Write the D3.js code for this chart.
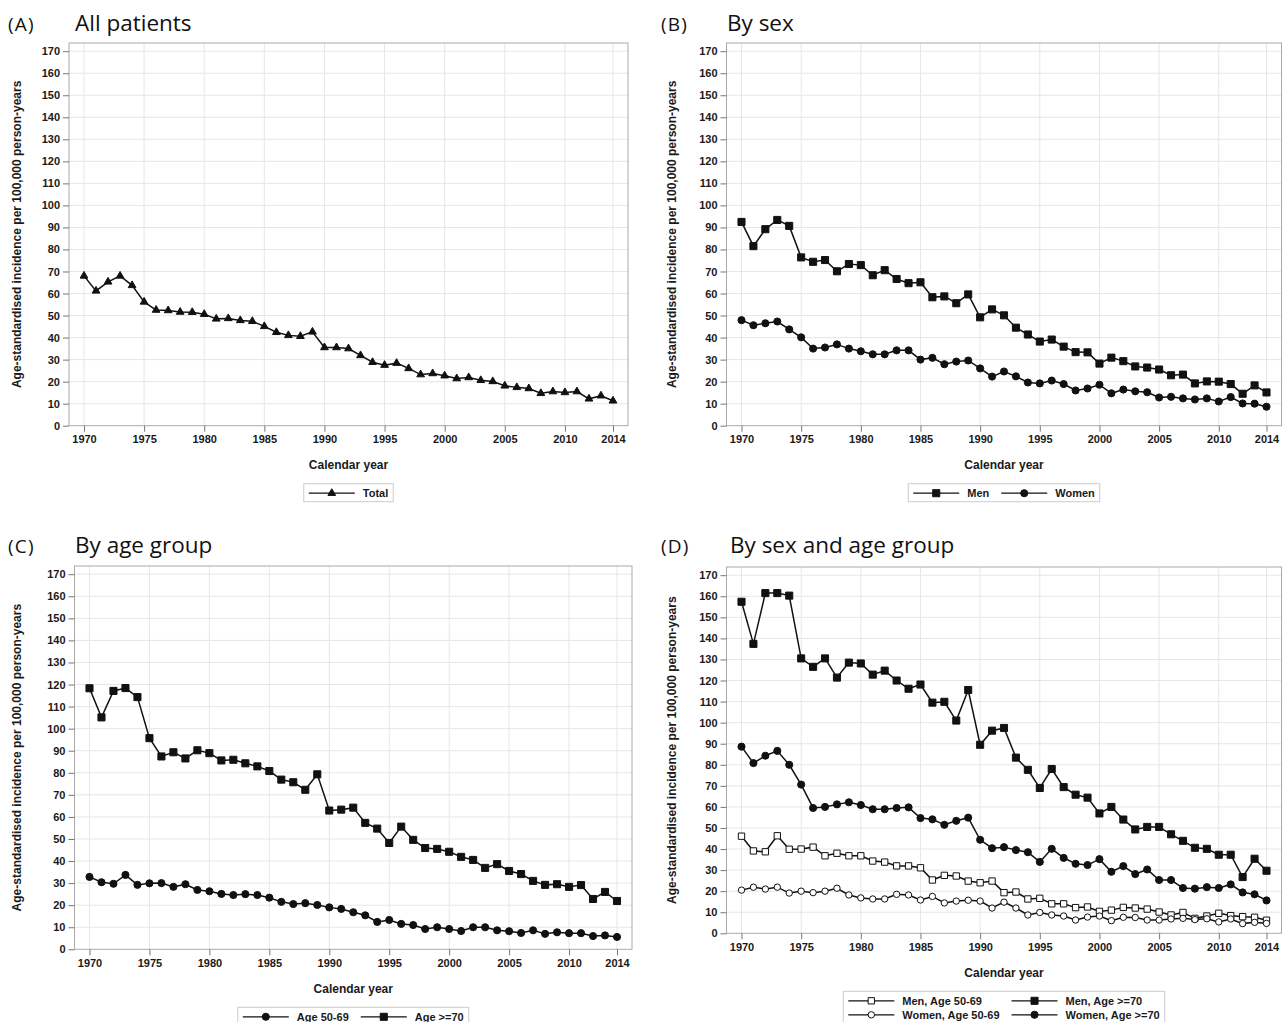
<!DOCTYPE html>
<html>
<head>
<meta charset="utf-8">
<script src="https://cdn.jsdelivr.net/npm/d3@7"></script>
<style>
  body { margin: 0; background: #fff; }
  text { font-family: "Liberation Sans", Arial, sans-serif; }
  .tick text { font-size: 11px; font-weight: bold; fill: #1a1a1a; }
  .tick line { stroke: #777; }
  .axis-label { font-size: 12px; font-weight: bold; fill: #1a1a1a; }
  .legend-text { font-size: 11px; font-weight: bold; fill: #1a1a1a; }
  .title { font-family: "Open Sans", sans-serif; font-size: 22.5px; fill: #111; }
  .tag { font-family: "Open Sans", sans-serif; font-size: 19px; letter-spacing: 1.2px; fill: #111; }
</style>
</head>
<body>
<div id="chart"></div>
<script>
const years = [1970, 1971, 1972, 1973, 1974, 1975, 1976, 1977, 1978, 1979,
  1980, 1981, 1982, 1983, 1984, 1985, 1986, 1987, 1988, 1989,
  1990, 1991, 1992, 1993, 1994, 1995, 1996, 1997, 1998, 1999,
  2000, 2001, 2002, 2003, 2004, 2005, 2006, 2007, 2008, 2009,
  2010, 2011, 2012, 2013, 2014];

const xTicks = [1970, 1975, 1980, 1985, 1990, 1995, 2000, 2005, 2010, 2014];
const yTicks = [0, 10, 20, 30, 40, 50, 60, 70, 80, 90, 100, 110, 120, 130, 140, 150, 160, 170];

// (A) all patients
const total = [68, 61.2, 65.3, 68, 63.7, 56.2, 52.5, 52.3, 51.6, 51.5,
  50.6, 48.5, 48.7, 47.8, 47.4, 45.1, 42.4, 41, 40.6, 42.6,
  35.5, 35.5, 35, 31.9, 28.8, 27.5, 28.4, 26, 23.2, 23.7,
  22.7, 21.4, 21.9, 20.6, 20.1, 18.1, 17.4, 16.9, 14.7, 15.5,
  15.1, 15.5, 12.2, 13.6, 11.3];

// (B) by sex
const men = [92.5, 81.5, 89.2, 93.4, 90.7, 76.4, 74.4, 75.2, 70.1, 73.4,
  72.9, 68.3, 70.6, 66.6, 64.7, 65.1, 58.3, 58.7, 55.6, 59.6,
  49.2, 52.8, 50.1, 44.5, 41.4, 38.2, 39.1, 35.9, 33.4, 33.3,
  28.2, 30.9, 29.3, 26.9, 26.4, 25.5, 22.9, 23.2, 19.2, 20.1,
  20, 18.9, 14.5, 18.3, 15.1];
const women = [47.9, 45.6, 46.5, 47.3, 43.7, 40.1, 35, 35.5, 36.9, 35,
  33.8, 32.4, 32.4, 34.2, 34.2, 30, 30.8, 27.9, 29.1, 29.6,
  26, 22.3, 24.6, 22.4, 19.6, 19.2, 20.5, 18.9, 16, 16.9,
  18.6, 14.7, 16.4, 15.6, 15.2, 12.8, 13.1, 12.4, 11.9, 12.4,
  11, 13, 10.1, 10, 8.6];

// (C) by age group
const age5069 = [32.8, 30.4, 29.7, 33.7, 29.2, 29.9, 30, 28.3, 29.5, 26.9,
  26.3, 25.1, 24.6, 25, 24.6, 23.4, 21.5, 20.5, 20.9, 20.1,
  19, 18.3, 16.8, 15.4, 12.4, 13.3, 11.5, 11, 9.2, 10,
  9.2, 8.3, 10, 10, 8.6, 8.2, 7.4, 8.6, 7, 7.7,
  7.3, 7.3, 6, 6.3, 5.6];
const age70 = [118.3, 105.1, 117.1, 118.4, 114.3, 95.7, 87.4, 89.3, 86.5, 90.2,
  88.9, 85.6, 85.9, 84.3, 82.9, 80.8, 76.9, 75.7, 72.3, 79.3,
  62.9, 63.3, 64.2, 57.3, 54.7, 48.2, 55.6, 49.6, 45.9, 45.5,
  44.2, 41.9, 40.5, 36.9, 38.6, 35.5, 34.1, 31, 29.2, 29.5,
  28.3, 29.1, 22.8, 26, 21.9];

// (D) by sex and age group
const men5069 = [46.1, 39.1, 38.7, 46.3, 39.9, 40, 40.9, 36.8, 38, 36.8,
  36.8, 34.3, 33.8, 32, 32, 31.1, 25.3, 27.5, 27.2, 24.8,
  24, 24.8, 19.3, 19.6, 16.3, 16.6, 14, 14, 12.2, 12.5,
  10.4, 11, 12.3, 12, 11.5, 10.1, 8.7, 9.9, 7.1, 8.2,
  9.5, 8.4, 7.9, 7.6, 6.2];
const men70 = [157.4, 137.4, 161.5, 161.5, 160.3, 130.5, 126.5, 130.5, 121.4, 128.5,
  128.1, 122.8, 124.7, 120, 116.1, 118.1, 109.5, 109.9, 101, 115.5,
  89.5, 96.2, 97.5, 83.4, 77.6, 69, 78, 69.4, 65.8, 64.4,
  56.9, 60, 54, 49.3, 50.5, 50.5, 47, 43.9, 40.6, 40.1,
  37.3, 37.3, 26.7, 35.4, 29.7];
const women5069 = [20.5, 21.9, 21, 21.9, 19.1, 20, 19.3, 20, 21.4, 18.2,
  16.8, 16.3, 16.3, 18.5, 18.2, 15.8, 17.5, 14.4, 15.3, 15.7,
  15.3, 12, 14.8, 12, 8.7, 9.9, 8.7, 8.2, 6.3, 7.7,
  8.2, 6, 7.6, 7.5, 6.3, 6.3, 6.8, 7.1, 6.5, 6.9,
  5.4, 6.8, 4.6, 5.2, 4.7];
const women70 = [88.6, 80.8, 84.3, 86.6, 80, 70.6, 59.5, 60, 61.2, 62.2,
  60.9, 58.9, 58.9, 59.5, 59.8, 54.7, 54.1, 51.5, 53.4, 54.9,
  44.4, 40.4, 40.9, 39.5, 38.5, 33.9, 40.1, 35.8, 33, 32.4,
  35.2, 29.2, 31.9, 28.1, 30.3, 25.3, 25.3, 21.5, 21.2, 21.9,
  21.5, 23.2, 19.4, 18.5, 15.6];

const yLabel = "Age-standardised incidence per 100,000 person-years";

const panels = [
  { tag: "(A)", title: "All patients", left: 69, right: 628, top: 43, bottom: 425.7,
    tagX: 8, titleX: 75, titleY: 31, labelX: 17, rows: 1,
    series: [{ name: "Total", values: total, symbol: "triangle", filled: true }] },
  { tag: "(B)", title: "By sex", left: 726.5, right: 1281.5, top: 43, bottom: 425.7,
    tagX: 661, titleX: 727, titleY: 31, labelX: 672, rows: 1,
    series: [{ name: "Men", values: men, symbol: "square", filled: true },
             { name: "Women", values: women, symbol: "circle", filled: true }] },
  { tag: "(C)", title: "By age group", left: 74.5, right: 632, top: 566, bottom: 949.3,
    tagX: 8, titleX: 75, titleY: 553, labelX: 17, rows: 1,
    series: [{ name: "Age 50-69", values: age5069, symbol: "circle", filled: true },
             { name: "Age >=70", values: age70, symbol: "square", filled: true }] },
  { tag: "(D)", title: "By sex and age group", left: 726.5, right: 1281.5, top: 567, bottom: 933.3,
    tagX: 661, titleX: 730, titleY: 553, labelX: 672, rows: 2,
    series: [{ name: "Men, Age 50-69", values: men5069, symbol: "square", filled: false },
             { name: "Men, Age >=70", values: men70, symbol: "square", filled: true },
             { name: "Women, Age 50-69", values: women5069, symbol: "circle", filled: false },
             { name: "Women, Age >=70", values: women70, symbol: "circle", filled: true }] }
];

const svg = d3.select("#chart")
  .append("svg")
  .attr("width", 1288)
  .attr("height", 1022);

function drawMarker(g, type, filled, cx, cy) {
  let size = 50;
  let sym = d3.symbolSquare;
  if (type === "circle") { sym = d3.symbolCircle; size = filled ? 40 : 32; }
  if (type === "triangle") { sym = d3.symbolTriangle; size = 26; }
  if (type === "square" && !filled) size = 40;
  g.append("path")
    .attr("d", d3.symbol().type(sym).size(size)())
    .attr("transform", `translate(${cx},${cy})`)
    .attr("fill", filled ? "#111" : "#fff")
    .attr("stroke", "#111")
    .attr("stroke-width", 1);
}

panels.forEach(p => {
  const g = svg.append("g");

  const x = d3.scaleLinear().domain([1970, 2014]).range([p.left + 15, p.right - 15]);
  const y = d3.scaleLinear().domain([0, 170]).range([p.bottom, p.top + 8.2]);

  // grid
  g.append("g").selectAll("line")
    .data(yTicks.filter(d => d > 0))
    .enter().append("line")
    .attr("x1", p.left).attr("x2", p.right)
    .attr("y1", d => y(d)).attr("y2", d => y(d))
    .attr("stroke", "#e6e6e6");
  g.append("g").selectAll("line")
    .data(xTicks)
    .enter().append("line")
    .attr("x1", d => x(d)).attr("x2", d => x(d))
    .attr("y1", p.top).attr("y2", p.bottom)
    .attr("stroke", "#e6e6e6");

  // frame
  g.append("rect")
    .attr("x", p.left).attr("y", p.top)
    .attr("width", p.right - p.left).attr("height", p.bottom - p.top)
    .attr("fill", "none").attr("stroke", "#aaa");

  // axes
  const yAxis = g.append("g")
    .attr("transform", `translate(${p.left},0)`)
    .call(d3.axisLeft(y).tickValues(yTicks).tickSize(6).tickPadding(3));
  yAxis.select(".domain").remove();

  const xAxis = g.append("g")
    .attr("transform", `translate(0,${p.bottom})`)
    .call(d3.axisBottom(x).tickValues(xTicks).tickFormat(d3.format("d")).tickSize(6).tickPadding(4));
  xAxis.select(".domain").remove();

  g.append("text")
    .attr("class", "axis-label")
    .attr("transform", "rotate(-90)")
    .attr("x", -(p.top + p.bottom) / 2)
    .attr("y", p.labelX)
    .attr("dy", "0.35em")
    .attr("text-anchor", "middle")
    .text(yLabel);

  g.append("text")
    .attr("class", "axis-label")
    .attr("x", (p.left + p.right) / 2)
    .attr("y", p.bottom + 39)
    .attr("dy", "0.35em")
    .attr("text-anchor", "middle")
    .text("Calendar year");

  // titles
  g.append("text").attr("class", "tag").attr("x", p.tagX).attr("y", p.titleY).text(p.tag);
  g.append("text").attr("class", "title").attr("x", p.titleX).attr("y", p.titleY).text(p.title);

  // series
  const line = d3.line().x((d, i) => x(years[i])).y(d => y(d));
  p.series.forEach(s => {
    g.append("path")
      .datum(s.values)
      .attr("d", line)
      .attr("fill", "none")
      .attr("stroke", "#111")
      .attr("stroke-width", 1.5);
  });
  p.series.forEach(s => {
    const mg = g.append("g");
    s.values.forEach((v, i) => drawMarker(mg, s.symbol, s.filled, x(years[i]), y(v)));
  });

  // Legend
  const lineLen = 46, textGap = 8, entryGap = 12, pad = 5;
  const lg = g.append("g");
  const cols = p.rows === 2 ? 2 : p.series.length;
  const items = p.series.map((s, i) => {
    const t = lg.append("text").attr("class", "legend-text").text(s.name);
    return { s, t, w: t.node().getComputedTextLength(), col: i % cols, row: Math.floor(i / cols) };
  });
  const colW = d3.range(cols).map(c => d3.max(items.filter(it => it.col === c), it => lineLen + textGap + it.w));
  const boxW = pad * 2 + d3.sum(colW) + entryGap * (cols - 1);
  const boxH = p.rows === 2 ? 36 : 18;
  const boxX = (p.left + p.right) / 2 - boxW / 2;
  const boxY = p.bottom + 58;
  lg.insert("rect", "text")
    .attr("x", boxX).attr("y", boxY)
    .attr("width", boxW).attr("height", boxH)
    .attr("fill", "#fff").attr("stroke", "#ccc");
  items.forEach(it => {
    const ex = boxX + pad + d3.sum(colW.slice(0, it.col)) + entryGap * it.col;
    const ey = boxY + 9.5 + it.row * 14;
    lg.append("line")
      .attr("x1", ex).attr("x2", ex + lineLen)
      .attr("y1", ey).attr("y2", ey)
      .attr("stroke", "#111").attr("stroke-width", 1.3);
    drawMarker(lg, it.s.symbol, it.s.filled, ex + lineLen / 2, ey);
    it.t.attr("x", ex + lineLen + textGap).attr("y", ey).attr("dy", "0.35em");
  });
});
</script>
</body>
</html>
